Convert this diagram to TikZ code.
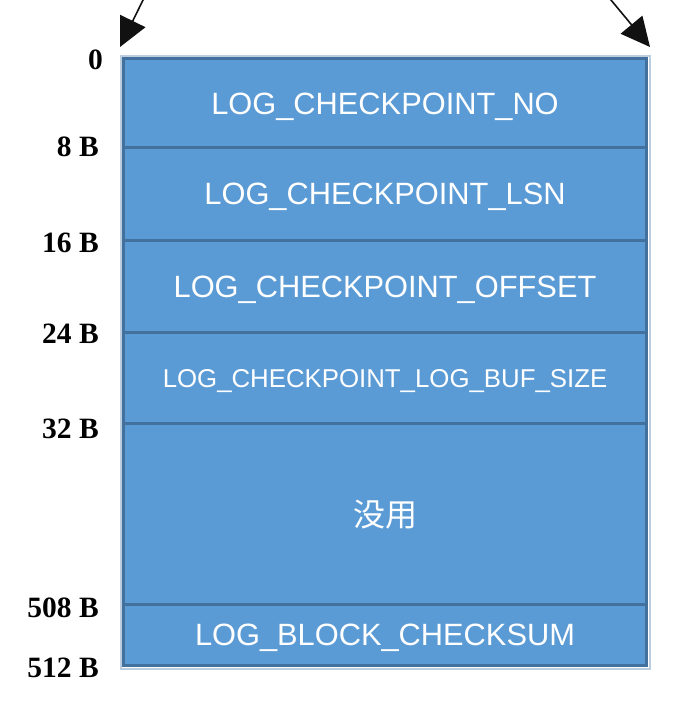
\documentclass[tikz,border=0pt]{standalone}
\usepackage{fontspec}
\setmainfont{Liberation Serif}
\newfontfamily\boxfont{Liberation Sans}
\newfontfamily\cjk{Noto Sans CJK SC}
\usetikzlibrary{arrows.meta}
\definecolor{boxfill}{HTML}{5B9BD5}
\definecolor{boxline}{HTML}{41719C}
\definecolor{halo}{HTML}{BCCDDF}
\definecolor{arrowc}{HTML}{111111}
\tikzset{
  field/.style={draw=boxline, fill=boxfill, line width=3pt, minimum width=523pt,
    inner sep=0pt, outer sep=0pt, text=white, font=\boxfont\fontsize{30.8}{36}\selectfont,
    text height=22pt, text depth=0pt},
  offs/.style={anchor=east, inner sep=0pt, font=\bfseries\fontsize{29.5}{33}\selectfont,
    text height=20pt, text depth=0pt},
  ptr/.style={draw=arrowc, line width=1.6pt, -{Triangle[length=29pt,width=28pt]}}
}
\begin{document}
\begin{tikzpicture}[x=1pt,y=-1pt]
\useasboundingbox (0,0) rectangle (700,724);
% light halo round the whole block
\draw[halo, line width=2pt] (120.5,55.5) rectangle (649.5,668.5);
% fields
\node[field, minimum height=89pt]   (f1) at (385,103)    {LOG\_CHECKPOINT\_NO};
\node[field, minimum height=92.5pt] (f2) at (385,193.75) {LOG\_CHECKPOINT\_LSN};
\node[field, minimum height=92pt]   (f3) at (385,286)    {LOG\_CHECKPOINT\_OFFSET};
\node[field, minimum height=91.5pt, font=\boxfont\fontsize{25.8}{30}\selectfont, text height=18.5pt] (f4) at (385,377.75) {LOG\_CHECKPOINT\_LOG\_BUF\_SIZE};
\node[field, minimum height=180.5pt, font=\cjk\fontsize{32}{38}\selectfont, text height=26pt] (f5) at (385,513.75) {没用};
\node[field, minimum height=61.5pt] (f6) at (385,634.75) {LOG\_BLOCK\_CHECKSUM};
% offsets
\node[offs] (o0)   at (103,59)  {0};
\node[offs] (o8)   at (99,146)  {8 B};
\node[offs] (o16)  at (99,242)  {16 B};
\node[offs] (o24)  at (99,333)  {24 B};
\node[offs] (o32)  at (99,428)  {32 B};
\node[offs] (o508) at (99,607)  {508 B};
\node[offs] (o512) at (99,667)  {512 B};
% pointers
\coordinate (ls) at (144.5,-3);
\coordinate (lt) at (120,47);
\coordinate (rs) at (608.5,-3);
\coordinate (rt) at (650,47);
\draw[ptr] (ls) -- (lt);
\draw[ptr] (rs) -- (rt);
\end{tikzpicture}
\end{document}
